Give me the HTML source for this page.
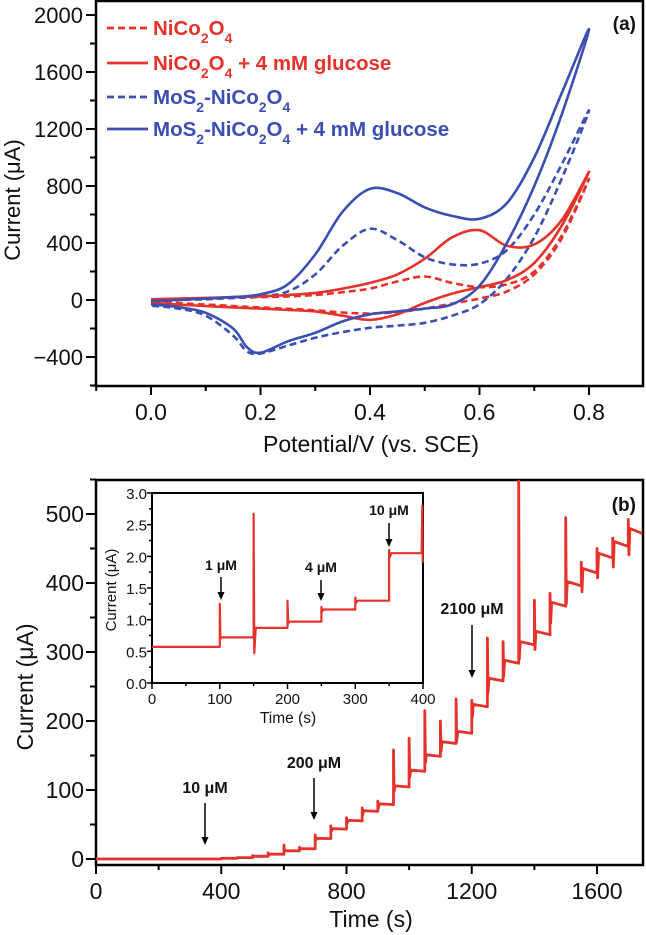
<!DOCTYPE html>
<html><head><meta charset="utf-8">
<style>
html,body{margin:0;padding:0;background:#fff;}
svg{display:block;font-family:"Liberation Sans",Arial,sans-serif;}
</style></head>
<body>
<svg id="fig" width="646" height="935" viewBox="0 0 646 935" xmlns="http://www.w3.org/2000/svg"></svg>
<script>
// ===== Panel (a) data: cyclic voltammograms =====
const cvPotFwd = [0,0.05,0.1,0.15,0.2,0.25,0.3,0.35,0.4,0.45,0.5,0.55,0.6,0.65,0.7,0.75,0.8];
const cvPotRev = [0.8,0.75,0.7,0.65,0.6,0.55,0.5,0.45,0.4,0.35,0.3,0.25,0.2,0.175,0.15,0.1,0.05,0];
const niFwd   = [0,5,10,15,20,25,35,55,80,130,165,120,90,110,200,450,850];
const niRev   = [850,430,180,60,10,-25,-60,-85,-95,-88,-72,-62,-52,-48,-42,-32,-22,-12];
const niGFwd  = [5,10,15,20,25,35,50,80,120,180,290,440,490,380,390,560,900];
const niGRev  = [900,520,260,140,90,45,-20,-100,-140,-110,-80,-70,-60,-56,-52,-42,-32,-20];
const moFwd   = [-10,0,5,15,25,60,180,380,500,420,300,250,255,350,600,950,1330];
const moRev   = [1330,850,440,150,-30,-110,-160,-180,-195,-225,-265,-320,-375,-360,-250,-110,-60,-40];
const moGFwd  = [-5,0,10,20,40,110,320,620,780,750,650,590,570,680,1000,1450,1900];
const moGRev  = [1900,1300,800,400,100,-30,-60,-80,-100,-150,-230,-290,-370,-330,-200,-90,-50,-30];
const cvXTicks = ["0.0","0.2","0.4","0.6","0.8"];
const cvYTicks = ["-400","0","400","800","1200","1600","2000"];

// ===== Panel (b) data: amperometric response =====
const stepTimes  = [400,450,500,550,600,650,700,750,800,850,900,950,1000,1050,1100,1150,1200,1250,1300,1350,1400,1450,1500,1550,1600,1650,1700];
const stepLevels = [1,2,4,7,12,15,30,44,56,70,80,106,129,151,170,185,224,262,288,315,330,372,402,421,443,460,479];
const stepSpikes = [1,2,5,9,20,17,35,48,60,74,84,158,175,215,200,232,230,320,315,550,375,385,495,430,450,465,492];
const bXTicks = ["0","400","800","1200","1600"];
const bYTicks = ["0","100","200","300","400","500"];

// ===== Inset data =====
const inBase = 0.57;
const inTimes  = [100,150,200,250,300,350];
const inLevels = [0.72,0.87,0.97,1.16,1.30,2.05];
const inSpikes = [1.25,2.67,1.30,1.20,1.35,2.10];
const inXTicks = ["0","100","200","300","400"];
const inYTicks = ["0.0","0.5","1.0","1.5","2.0","2.5","3.0"];

const NS="http://www.w3.org/2000/svg";
const svg=document.getElementById('fig');
function el(tag,attrs,parent){const e=document.createElementNS(NS,tag);for(const k in attrs)e.setAttribute(k,attrs[k]);(parent||svg).appendChild(e);return e;}
const RED="#e5322b", BLUE="#3b4fb2";

// ---- axis functions ----
const ax={x0:151,x1:589,v0:0,v1:0.8,y0:300,y1:15,w0:0,w1:2000};
const axX=v=>ax.x0+(v-ax.v0)/(ax.v1-ax.v0)*(ax.x1-ax.x0);
const axY=v=>ax.y0+(v-ax.w0)/(ax.w1-ax.w0)*(ax.y1-ax.y0);
const bX=v=>96+v/1600*(597-96);
const bY=v=>859+v/500*(514-859);
const iX=v=>152+v/400*(423-152);
const iY=v=>683+v/3*(493-683);

function smoothPath(pts){
  let d="M"+pts[0][0].toFixed(1)+","+pts[0][1].toFixed(1);
  for(let i=0;i<pts.length-1;i++){
    const p0=pts[i-1]||pts[i],p1=pts[i],p2=pts[i+1],p3=pts[i+2]||p2;
    const c1=[p1[0]+(p2[0]-p0[0])/6,p1[1]+(p2[1]-p0[1])/6];
    const c2=[p2[0]-(p3[0]-p1[0])/6,p2[1]-(p3[1]-p1[1])/6];
    d+=" C"+c1.map(n=>n.toFixed(1)).join(",")+" "+c2.map(n=>n.toFixed(1)).join(",")+" "+p2[0].toFixed(1)+","+p2[1].toFixed(1);
  }
  return d;
}

// ===== Panel (a) frame =====
const fa=el('rect',{x:96,y:1,width:547,height:385,fill:'none',stroke:'#000','stroke-width':2.5});


for(let v=-600;v<=2000;v+=200){
  const major=v%400===0;
  const t=el('line',{x1:96,x2:major?86:90,y1:axY(v),y2:axY(v),stroke:'#000','stroke-width':2});
  
  
}
cvYTicks.forEach(s=>{
  const t=el('text',{x:83,y:axY(+s)+8,'text-anchor':'end','font-size':22,fill:'#111'});
  t.textContent=s.replace('-','\u2212');
  
  
});
for(let v=-0.1;v<=0.85;v+=0.1){
  const major=Math.abs(Math.round(v*10)%2)===0;
  const t=el('line',{x1:axX(v),x2:axX(v),y1:386,y2:major?395:391,stroke:'#000','stroke-width':2});
  
  
}
cvXTicks.forEach(s=>{
  const t=el('text',{x:axX(+s),y:420,'text-anchor':'middle','font-size':23,fill:'#111'});
  t.textContent=s;
  
  
});
let t=el('text',{x:371,y:452,'text-anchor':'middle','font-size':23,fill:'#111'});
t.textContent="Potential/V (vs. SCE)";


t=el('text',{x:0,y:0,'text-anchor':'middle','font-size':22,fill:'#111',transform:'translate(20,200) rotate(-90)'});
t.textContent="Current (\u03bcA)";


t=el('text',{x:636,y:30,'text-anchor':'end','font-size':19,'font-weight':'bold',fill:'#111'});
t.textContent="(a)";



function cvCurve(fwd,rev,color,dash,name){
  const pts=cvPotFwd.map((e,i)=>[axX(e),axY(fwd[i])]).concat(cvPotRev.slice(1).map((e,i)=>[axX(e),axY(rev[i+1])]));
  const p=el('path',{d:smoothPath(pts),fill:'none',stroke:color,'stroke-width':2.6,'stroke-dasharray':dash?'7 4':'none','stroke-linejoin':'round'});
  
  
}
cvCurve(niFwd,niRev,RED,true,'nico2o4-curve');
cvCurve(moFwd,moRev,BLUE,true,'mos2-nico2o4-curve');
cvCurve(niGFwd,niGRev,RED,false,'nico2o4-glucose-curve');
cvCurve(moGFwd,moGRev,BLUE,false,'mos2-nico2o4-glucose-curve');

// legend
const sub=n=>'<tspan baseline-shift="sub" font-size="14">'+n+'</tspan>';
const legend=[
 {c:RED,d:true,h:'NiCo'+sub(2)+'O'+sub(4),n:'legend-nico2o4'},
 {c:RED,d:false,h:'NiCo'+sub(2)+'O'+sub(4)+' + 4 mM glucose',n:'legend-nico2o4-glucose'},
 {c:BLUE,d:true,h:'MoS'+sub(2)+'-NiCo'+sub(2)+'O'+sub(4),n:'legend-mos2-nico2o4'},
 {c:BLUE,d:false,h:'MoS'+sub(2)+'-NiCo'+sub(2)+'O'+sub(4)+' + 4 mM glucose',n:'legend-mos2-nico2o4-glucose'}
];
const legY=[28,63,97,129];
legend.forEach((L,i)=>{
  const y=legY[i];
  const g=el('g',{});
  
  
  el('line',{x1:107,x2:148,y1:y,y2:y,stroke:L.c,'stroke-width':2.8,'stroke-dasharray':L.d?'7 4':'none'},g);
  const tx=el('text',{x:153,y:y+7,'font-size':20.5,'font-weight':'bold',fill:L.c},g);
  tx.innerHTML=L.h;
});

// ===== Panel (b) =====
const fb=el('rect',{x:96,y:480,width:547,height:385,fill:'none',stroke:'#000','stroke-width':2.5});


for(let v=0;v<=550;v+=50){
  const major=v%100===0;
  const k=el('line',{x1:96,x2:major?86:90,y1:bY(v),y2:bY(v),stroke:'#000','stroke-width':2});
  
  
}
bYTicks.forEach(s=>{
  const k=el('text',{x:84,y:bY(+s)+8,'text-anchor':'end','font-size':23,fill:'#111'});
  k.textContent=s;
  
  
});
for(let v=0;v<=1740;v+=200){
  const major=v%400===0;
  const k=el('line',{x1:bX(v),x2:bX(v),y1:865,y2:major?874:870,stroke:'#000','stroke-width':2});
  
  
}
bXTicks.forEach(s=>{
  const k=el('text',{x:bX(+s),y:899,'text-anchor':'middle','font-size':23,fill:'#111'});
  k.textContent=s;
  
  
});
t=el('text',{x:371,y:927,'text-anchor':'middle','font-size':23,fill:'#111'});
t.textContent="Time (s)";


t=el('text',{x:0,y:0,'text-anchor':'middle','font-size':23,fill:'#111',transform:'translate(33,687) rotate(-90)'});
t.textContent="Current (\u03bcA)";


t=el('text',{x:636,y:511,'text-anchor':'end','font-size':19,'font-weight':'bold',fill:'#111'});
t.textContent="(b)";



// main trace
(function(){
  const clip=el('clipPath',{id:'cb'});el('rect',{x:96,y:480,width:547,height:385},clip);
  let prev=0; let d="M"+bX(0)+","+bY(0);
  stepTimes.forEach((tm,i)=>{
    d+=" L"+bX(tm).toFixed(1)+","+bY(prev).toFixed(1);
    d+=" L"+bX(tm).toFixed(1)+","+bY(stepSpikes[i]).toFixed(1);
    d+=" L"+bX(tm+2).toFixed(1)+","+bY(stepLevels[i]*0.92).toFixed(1);
    d+=" L"+bX(tm+5).toFixed(1)+","+bY(stepLevels[i]).toFixed(1);
    const nxt=i<stepTimes.length-1?stepTimes[i+1]:1745;
    d+=" L"+bX(nxt).toFixed(1)+","+bY(stepLevels[i]*0.985).toFixed(1);
    prev=stepLevels[i]*0.985;
  });
  const p=el('path',{d:d,fill:'none',stroke:RED,'stroke-width':2.8,'clip-path':'url(#cb)','stroke-linejoin':'round'});
  
  
})();

function arrow(x,y1,y2,label,ly,fs,name){
  const g=el('g',{});
  
  
  el('line',{x1:x,x2:x,y1:y1,y2:y2-6,stroke:'#000','stroke-width':1.5},g);
  el('path',{d:`M${x-3.5},${y2-8} L${x+3.5},${y2-8} L${x},${y2} Z`,fill:'#000'},g);
  const tx=el('text',{x:x,y:ly,'text-anchor':'middle','font-size':fs,'font-weight':'bold',fill:'#111'},g);
  tx.textContent=label;
}
arrow(205,803,845,"10 \u03bcM",793,16,'annotation-10um');
arrow(314,778,820,"200 \u03bcM",768,16,'annotation-200um');
arrow(472,625,678,"2100 \u03bcM",614,16,'annotation-2100um');

// ===== Inset =====
const fi=el('rect',{x:152,y:493,width:271,height:190,fill:'#fff',stroke:'#000','stroke-width':2});


for(let v=0;v<=3.001;v+=0.25){
  const major=Math.abs(v*2-Math.round(v*2))<1e-6;
  const k=el('line',{x1:152,x2:major?147:149,y1:iY(v),y2:iY(v),stroke:'#000','stroke-width':1.5});
  
  
}
inYTicks.forEach(s=>{
  const k=el('text',{x:147,y:iY(+s)+6,'text-anchor':'end','font-size':15,fill:'#111'});
  k.textContent=s;
  
  
});
for(let v=0;v<=400;v+=50){
  const k=el('line',{x1:iX(v),x2:iX(v),y1:683,y2:v%100===0?689:686,stroke:'#000','stroke-width':1.5});
  
  
}
inXTicks.forEach(s=>{
  const k=el('text',{x:iX(+s),y:704,'text-anchor':'middle','font-size':15,fill:'#111'});
  k.textContent=s;
  
  
});
t=el('text',{x:288,y:723,'text-anchor':'middle','font-size':15.5,fill:'#111'});
t.textContent="Time (s)";


t=el('text',{x:0,y:0,'text-anchor':'middle','font-size':15,fill:'#111',transform:'translate(116,590) rotate(-90)'});
t.textContent="Current (\u03bcA)";


(function(){
  let prev=inBase; let d="M"+iX(0)+","+iY(inBase);
  inTimes.forEach((tm,i)=>{
    d+=" L"+iX(tm).toFixed(1)+","+iY(prev).toFixed(1);
    d+=" L"+iX(tm).toFixed(1)+","+iY(inSpikes[i]).toFixed(1);
    d+=" L"+iX(tm+1).toFixed(1)+","+iY(i===1?0.47:inLevels[i]*0.97).toFixed(1);
    d+=" L"+iX(tm+3).toFixed(1)+","+iY(inLevels[i]).toFixed(1);
    const nxt=i<inTimes.length-1?inTimes[i+1]:398;
    d+=" L"+iX(nxt).toFixed(1)+","+iY(inLevels[i]).toFixed(1);
    prev=inLevels[i];
  });
  d+=" L"+iX(399).toFixed(1)+","+iY(2.8).toFixed(1)+" L"+iX(399.5).toFixed(1)+","+iY(1.9).toFixed(1);
  const p=el('path',{d:d,fill:'none',stroke:RED,'stroke-width':2.2,'stroke-linejoin':'round'});
  
  
})();
arrow(221,577,600,"1 \u03bcM",570,14,'inset-annotation-1um');
arrow(321,580,601,"4 \u03bcM",572,14,'inset-annotation-4um');
arrow(389,523,547,"10 \u03bcM",515,14,'inset-annotation-10um');
</script>
</body></html>
